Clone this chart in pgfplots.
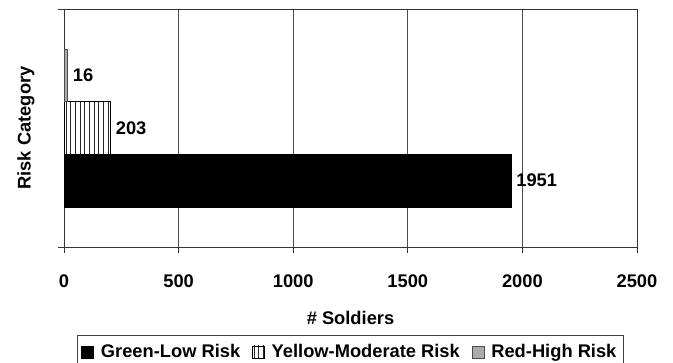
\documentclass[border=0pt]{standalone}
\usepackage{fontspec}
\setmainfont{Liberation Sans}
\usepackage{pgfplots}
\pgfplotsset{compat=1.18}
\usetikzlibrary{patterns.meta}
\newcommand{\cf}{\fontsize{18.3}{22}\selectfont\bfseries}
\begin{document}
\begin{tikzpicture}
\begin{axis}[name=ax, scale only axis, width=573pt, height=238pt,
  xmin=0, xmax=2500, ymin=-1, ymax=1,
  xtick={0,500,1000,1500,2000,2500}, ytick={-1,1}, yticklabels={},
  xtick pos=bottom, ytick pos=left, tick align=outside, major tick length=6pt,
  tick style={draw=black!80, line width=0.7pt},
  axis line style={draw=black!80, line width=0.8pt},
  xmajorgrids, grid style={draw=black!70, line width=0.7pt},
  /pgf/number format/assume math mode=true,
  /pgf/number format/1000 sep={},
  tick label style={font=\cf},
  xticklabel style={anchor=center, yshift=-28pt},
  label style={font=\cf},
  xlabel={\# Soldiers}, ylabel={Risk Category},
  xlabel style={at={(axis description cs:0.5,-0.2983)}, anchor=center},
  ylabel style={at={(axis description cs:-0.0663,0.5)}, anchor=center},
  point meta=x,
  nodes near coords,
  nodes near coords style={font=\cf, anchor=west, inner sep=0pt, xshift=5pt},
  legend columns=3,
  legend style={at={(axis description cs:0.0227,-0.3697)}, anchor=north west,
    draw=black!75, line width=0.8pt, font=\cf, inner xsep=4pt, inner ysep=7pt,
    nodes={inner xsep=3pt, inner ysep=2pt},
    /tikz/every odd column/.append style={column sep=4pt},
    /tikz/every even column/.append style={column sep=9pt}},
  legend image code/.code={\draw[#1, line width=0.5pt] (0pt,-6pt) rectangle (12pt,6pt);},
]
\addplot[xbar, bar width=52.5pt, bar shift=0pt, fill=black, draw=black] coordinates {(1951,-0.4412)};
\addplot[xbar, bar width=52.5pt, bar shift=0pt, draw=black, line width=0.6pt,
  pattern={Lines[angle=90, distance=4.7pt, line width=0.6pt]}, pattern color=black!85] coordinates {(203,0)};
\addplot[xbar, bar width=52.5pt, bar shift=0pt, fill=black!33, draw=black!70, line width=0.6pt] coordinates {(16,0.4412)};
\legend{Green-Low Risk, Yellow-Moderate Risk, Red-High Risk}
\end{axis}
\pgfresetboundingbox
\path (ax.south west) ++(-64pt,-116pt) rectangle ++(673pt,363pt);
\end{tikzpicture}
\end{document}
